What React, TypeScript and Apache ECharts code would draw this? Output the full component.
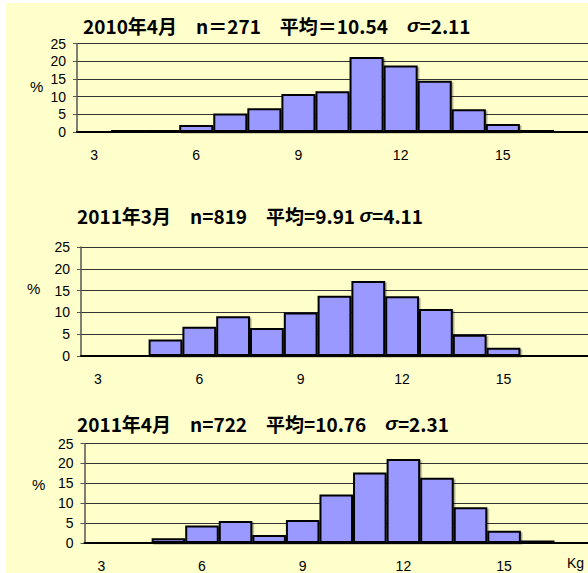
import React, { useEffect, useRef } from "react";
import * as echarts from "echarts";

const categories = ["3", "4", "5", "6", "7", "8", "9", "10", "11", "12", "13", "14", "15", "16", "17"];
const apr2010 = [0, 0.7, 0.7, 2.0, 5.2, 6.7, 10.7, 11.5, 21.2, 18.8, 14.5, 6.4, 2.25, 0.7, 0];
const mar2011 = [0, 0, 3.8, 6.7, 9.1, 6.4, 10.0, 13.8, 17.2, 13.7, 10.8, 4.9, 1.9, 0, 0];
const apr2011 = [0, 0, 1.2, 4.4, 5.5, 2.0, 5.8, 12.2, 17.7, 21.1, 16.4, 9.0, 3.1, 0.65, 0];
const titles = [
  ["2010年4月　n＝271　平均＝10.54　", "=2.11"],
  ["2011年3月　n=819　平均=9.91 ", "=4.11"],
  ["2011年4月　n=722　平均=10.76　", "=2.31"],
];
const yTicks = [0, 5, 10, 15, 20, 25];

const FONT = "Liberation Sans, Arial, sans-serif";
const TFONT = "Noto Sans CJK JP, sans-serif";

export default function App() {
  const ref = useRef<HTMLDivElement>(null);
  useEffect(() => {
    if (!ref.current) return;
    const chart = echarts.init(ref.current, undefined, { renderer: "svg" });
    const grids = [
      { left: 77, top: 43.5, width: 514.5, height: 88.5 },
      { left: 81, top: 247, width: 510, height: 109 },
      { left: 84.5, top: 443.5, width: 507, height: 101 },
    ];
    const data = [apr2010, mar2011, apr2011];
    const titleY = [25, 215, 423];
    const titleX = [83, 77, 77];
    const pct = [
      { x: 30, y: 86 },
      { x: 27, y: 288 },
      { x: 32, y: 484 },
    ];
    const option: any = {
      animation: false,
      backgroundColor: "#ffffff",
      grid: grids.map((g) => ({ ...g, containLabel: false })),
      xAxis: grids.map((_, i) => ({
        type: "category",
        gridIndex: i,
        data: categories,
        axisLine: { show: true, lineStyle: { color: "#000", width: 2 } },
        axisTick: { show: false },
        axisLabel: { interval: 2, margin: 16, fontSize: 14, color: "#000", fontFamily: FONT },
        splitLine: { show: false },
        z: 2,
      })),
      yAxis: grids.map((_, i) => ({
        type: "value",
        gridIndex: i,
        min: yTicks[0],
        max: yTicks[yTicks.length - 1],
        interval: 5,
        axisLine: { show: true, lineStyle: { color: "#555", width: 1.5 } },
        axisTick: { show: true, length: 4, lineStyle: { color: "#555" } },
        axisLabel: { margin: 11, fontSize: 14, color: "#000", fontFamily: FONT },
        splitLine: { show: true, lineStyle: { color: "#333", width: 1 } },
      })),
      series: data.map((d, i) => ({
        type: "bar",
        xAxisIndex: i,
        yAxisIndex: i,
        data: d,
        barCategoryGap: "0%",
        itemStyle: {
          color: "#9999ff",
          borderColor: "#000",
          borderWidth: 2,
          shadowColor: "rgba(0,0,0,0.35)",
          shadowOffsetX: 1.5,
          shadowOffsetY: 1.5,
          shadowBlur: 1,
        },
        z: 3,
      })),
      graphic: [
        {
          type: "rect",
          shape: { x: 6, y: 3, width: 600, height: 600 },
          style: { fill: "#ffffcc" },
          z: -10,
          silent: true,
        },
        ...titles.map((t, i) => ({
          type: "text",
          x: titleX[i],
          y: titleY[i],
          style: {
            text: `{a|${t[0]}}{s|σ}{a|${t[1]}}`,
            verticalAlign: "middle",
            rich: {
              a: { fontSize: 19, fontWeight: "bold", fontFamily: TFONT, fill: "#000" },
              s: { fontSize: 19, fontWeight: "bold", fontStyle: "italic", fontFamily: FONT, fill: "#000" },
            },
          },
          z: 10,
        })),
        ...pct.map((p) => ({
          type: "text",
          x: p.x,
          y: p.y,
          style: { text: "%", fontSize: 15, fontFamily: FONT, fill: "#000", verticalAlign: "middle" },
          z: 10,
        })),
        {
          type: "text",
          x: 567,
          y: 563,
          style: { text: "Kg", fontSize: 14, fontFamily: FONT, fill: "#000", verticalAlign: "middle" },
          z: 10,
        },
      ],
    };
    chart.setOption(option);
    return () => chart.dispose();
  }, []);
  return (
    <div
      ref={ref}
      style={{ position: "absolute", left: 0, top: 0, width: 588, height: 573 }}
    />
  );
}
